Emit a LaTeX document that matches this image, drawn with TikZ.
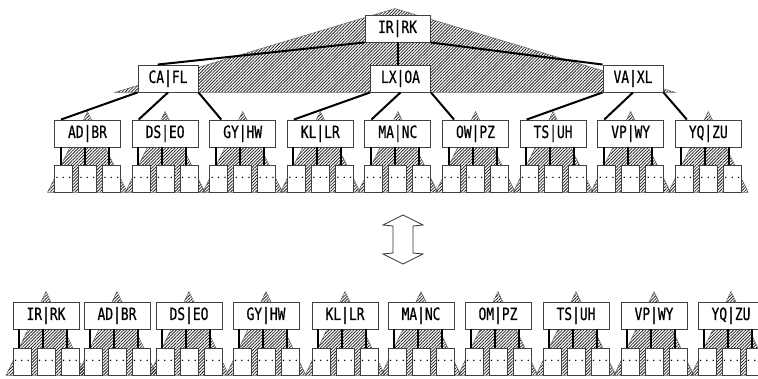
\documentclass[tikz,border=0pt]{standalone}
\usepackage{fontspec}
\newfontfamily\keyfont[FakeStretch=0.76,FakeBold=0.6]{DejaVu Sans Mono}
\usepackage{tikz}
\usetikzlibrary{calc,patterns.meta}
\pgfdeclarelayer{back}
\pgfsetlayers{back,main}

\begin{document}
\begin{tikzpicture}[
  x=1pt, y=-1pt,
  key/.style={draw=black!75, line width=0.9pt, fill=white, inner sep=0pt,
    minimum width=66pt, minimum height=27pt, font=\keyfont\fontsize{17}{17}\selectfont},
  innerkey/.style={key, minimum width=60pt},
  leaf/.style={draw=black!75, line width=0.9pt, fill=white, inner sep=0pt,
    minimum width=18pt, minimum height=27pt, font=\fontsize{14}{14}\selectfont},
  link/.style={line width=2pt},
  subtree/.style={draw=black!60, line width=0.5pt,
    pattern={Lines[angle=45,distance=2.2pt,line width=0.8pt]}, pattern color=black!85},
  swaparrow/.style={draw=black!80, line width=0.8pt, fill=white}
]
\useasboundingbox (0,0) rectangle (758,379);

% tree: root and inner level
\node[key, minimum width=65pt] (root) at (397.5,28.5) {IR|RK};
\node[innerkey] (cafl) at (168,78.5) {CA|FL};
\node[innerkey] (lxoa) at (400.5,78.5) {LX|OA};
\node[innerkey] (vaxl) at (633,78.5) {VA|XL};

\begin{pgfonlayer}{back}
  \path[subtree] ($(root.north)+(-2.5,-6)$) -- ($(cafl.south west)+(-23,0)$)
    -- ($(vaxl.south east)+(12,0)$) -- cycle;
\end{pgfonlayer}

\draw[link] (root.south west) -- ($(cafl.north west)!0.33!(cafl.north east)$);
\draw[link] (root.south) -- (root.south |- lxoa.north);
\draw[link] (root.south east) -- (vaxl.north west);

% tree: leaf level
\foreach \lbl [count=\i] in {AD|BR,DS|EO,GY|HW,KL|LR,MA|NC,OW|PZ,TS|UH,VP|WY,YQ|ZU}{
  \node[key] (t\i) at ({87.5+77.6*(\i-1)},133.5) {\lbl};
  \foreach \k in {1,2,3}{
    \node[leaf] (t\i-\k) at ($(t\i)+({24*(\k-2)},45)$) {$\cdots$};
    \draw[link] ($(t\i-\k.north)+(-3,0)$) -- ($(t\i-\k.north |- t\i.south)+(-3,0)$);
  }
  \begin{pgfonlayer}{back}
    \path[subtree] ($(t\i.north)+(0,-8)$) -- ($(t\i-1.south)+(-16,0)$)
      -- ($(t\i-3.south)+(16,0)$) -- cycle;
  \end{pgfonlayer}
}

\foreach \p [count=\j] in {cafl,lxoa,vaxl}{
  \pgfmathtruncatemacro\ca{3*\j-2}
  \pgfmathtruncatemacro\cb{3*\j-1}
  \pgfmathtruncatemacro\cc{3*\j}
  \draw[link] (\p.south west) -- ($(t\ca.north west)+(7,0)$);
  \draw[link] (\p.south) -- ($(t\cb.north west)+(7,0)$);
  \draw[link] (\p.south east) -- ($(t\cc.north west)+(12,0)$);
}

% swap arrow
\draw[swaparrow] (403,215) -- (423,225) -- (413,226) -- (413,253) -- (423,254)
  -- (403,264) -- (383,254) -- (393,253) -- (393,226) -- (383,225) -- cycle;

% flat row of pages
\foreach \lbl/\x [count=\i] in {IR|RK/46,AD|BR/117,DS|EO/189,GY|HW/266,KL|LR/345,
    MA|NC/421,OM|PZ/498,TS|UH/576,VP|WY/654,YQ|ZU/731}{
  \node[key] (b\i) at (\x,315.5) {\lbl};
  \foreach \k in {1,2,3}{
    \node[leaf] (b\i-\k) at ($(b\i)+({24*(\k-2)},46)$) {$\cdots$};
    \draw[link] ($(b\i-\k.north)+(-3,0)$) -- ($(b\i-\k.north |- b\i.south)+(-3,0)$);
  }
  \begin{pgfonlayer}{back}
    \path[subtree] ($(b\i.north)+(0,-10)$) -- ($(b\i-1.south)+(-16,0)$)
      -- ($(b\i-3.south)+(16,0)$) -- cycle;
  \end{pgfonlayer}
}
\end{tikzpicture}
\end{document}
